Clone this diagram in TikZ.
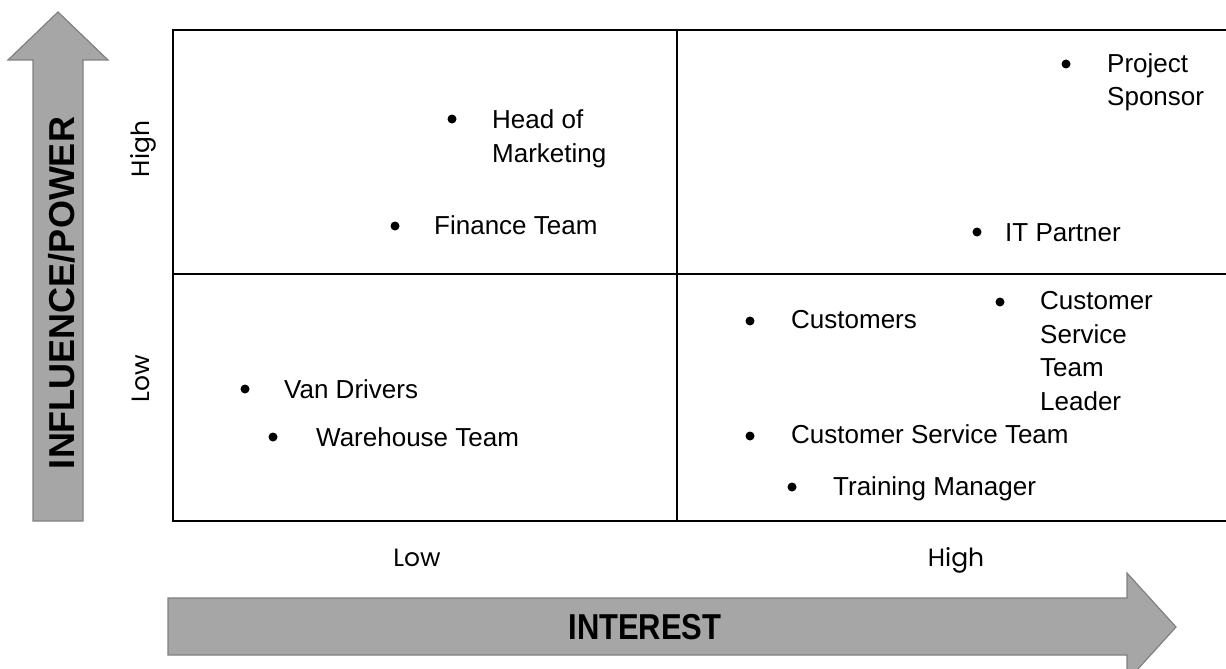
\documentclass[tikz,border=0pt]{standalone}
\usepackage{fontspec}
\setmainfont{Liberation Sans}
\newfontfamily\axisfont{Poppins}
\begin{document}
\begin{tikzpicture}[x=1pt,y=-1pt,
  arrowshape/.style={fill=black!35,draw=black!50,line width=1.2pt,line join=miter},
  gridline/.style={line width=2pt,black},
  item/.style={anchor=base west,inner sep=0pt,align=left,font=\fontsize{26}{33.5}\selectfont},
  bul/.style={circle,fill=black,inner sep=0pt,minimum size=9pt},
  axlab/.style={font=\axisfont\fontsize{25}{30}\selectfont,inner sep=0pt,anchor=base},
  bigtitle/.style={font=\bfseries\fontsize{36}{40}\selectfont,inner sep=0pt}]
\useasboundingbox (0,0) rectangle (1226,669);
\clip (0,0) rectangle (1226,669);
% arrows
\draw[arrowshape] (33,521) -- (33,60) -- (8,60) -- (58,12) -- (108,60) -- (83,60) -- (83,521) -- cycle;
\draw[arrowshape] (168,598) -- (1127,598) -- (1127,573) -- (1176,627) -- (1127,681) -- (1127,655) -- (168,655) -- cycle;
\node[bigtitle,rotate=90] (infl) at (62,293) {INFLUENCE/POWER};
\node[bigtitle,xscale=0.86] (intr) at (645,627) {INTEREST};
% grid
\coordinate (tl) at (173,30);
\coordinate (bl) at (173,521);
\coordinate (tr) at (1228,30);
\coordinate (br) at (1228,521);
\coordinate (ml) at (173,274);
\coordinate (mr) at (1228,274);
\coordinate (mt) at (677,30);
\coordinate (mb) at (677,521);
\draw[gridline] (tr) -- (tl) -- (bl) -- (br);
\draw[gridline] (ml) -- (mr);
\draw[gridline] (mt) -- (mb);
% axis labels
\node[axlab,rotate=90] (yhigh) at (149,149) {High};
\node[axlab,rotate=90] (ylow) at (149,379) {Low};
\node[axlab] (xlow) at (417,566) {Low};
\node[axlab] (xhigh) at (956,566) {High};
% items (base = baseline of last line)
\node[bul] (b1) at (452,119) {};
\node[item] (t1) at (492,162) {Head of\\Marketing};
\node[bul] (b2) at (395,226) {};
\node[item] (t2) at (434,234) {Finance Team};
\node[bul] (b3) at (1066,64) {};
\node[item] (t3) at (1107,106) {Project\\Sponsor};
\node[bul] (b4) at (977,232) {};
\node[item] (t4) at (1005,241) {IT Partner};
\node[bul] (b5) at (750,321) {};
\node[item] (t5) at (791,328) {Customers};
\node[bul] (b6) at (1000,302) {};
\node[item] (t6) at (1040,410) {Customer\\Service\\Team\\Leader};
\node[bul] (b7) at (750,436) {};
\node[item] (t7) at (791,443) {Customer Service Team};
\node[bul] (b8) at (792,487) {};
\node[item] (t8) at (833,495) {Training Manager};
\node[bul] (b9) at (245,389) {};
\node[item] (t9) at (284,398) {Van Drivers};
\node[bul] (b10) at (273,437) {};
\node[item] (t10) at (316,446) {Warehouse Team};
\end{tikzpicture}
\end{document}
